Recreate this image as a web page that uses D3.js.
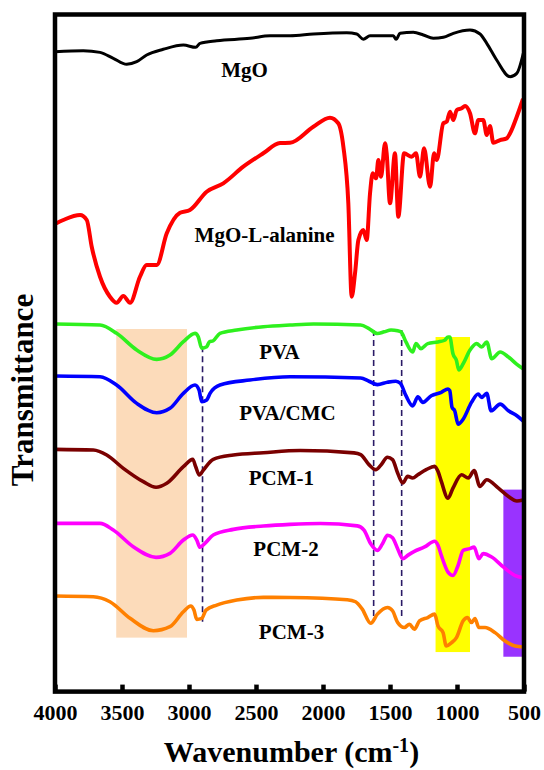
<!DOCTYPE html>
<html>
<head>
<meta charset="utf-8">
<script src="https://cdn.jsdelivr.net/npm/d3@7"></script>
<style>
  html, body { margin: 0; padding: 0; background: #fff; }
  svg text { font-family: "Liberation Serif", "Times New Roman", serif; font-weight: bold; fill: #000; }
</style>
</head>
<body>
<svg id="chart" width="544" height="770"></svg>
<script>
// FTIR spectra: wavenumber (cm-1) vs. transmittance (a.u., offset per sample)
const xTicks = [4000, 3500, 3000, 2500, 2000, 1500, 1000, 500];

const mgoWn = [4000, 3789, 3664, 3565, 3465, 3390, 3316, 3192, 3042, 2950, 2918, 2793, 2545, 2395, 2246, 2072, 1823, 1748, 1699, 1649, 1475, 1455, 1425, 1326, 1251, 1177, 1102, 1027, 903, 828, 778, 704, 604, 554, 505];
const mgoT  = [94.5, 94.65, 94.41, 93.53, 92.64, 93.03, 94.02, 94.86, 95.49, 95.15, 95.74, 96.13, 96.48, 96.87, 96.87, 97.12, 97.31, 97.12, 96.34, 96.87, 96.87, 96.34, 97.22, 97.37, 96.97, 96.48, 96.63, 97.22, 97.71, 97.12, 95.74, 93.28, 90.81, 91.31, 94.27];

const alaWn = [4000, 3938, 3813, 3763, 3726, 3664, 3590, 3540, 3490, 3440, 3366, 3316, 3241, 3166, 3067, 2993, 2868, 2744, 2595, 2446, 2321, 2246, 2072, 1948, 1886, 1848, 1811, 1786, 1761, 1736, 1699, 1674, 1649, 1629, 1604, 1587, 1567, 1537, 1525, 1500, 1463, 1438, 1395, 1338, 1306, 1276, 1246, 1201, 1171, 1151, 1102, 1077, 1052, 1027, 1002, 965, 940, 903, 866, 841, 804, 778, 754, 729, 679, 629, 604, 554, 510];
const alaT  = [69.06, 69.65, 70.39, 69.65, 65.7, 61.27, 58.32, 57.43, 58.42, 57.43, 61.27, 63.0, 63.0, 67.68, 70.72, 71.12, 73.83, 75.07, 77.52, 79.5, 81.02, 81.06, 83.43, 84.76, 83.93, 80.47, 72.11, 58.32, 61.77, 66.69, 68.17, 66.69, 73.59, 76.54, 75.81, 78.51, 76.04, 80.98, 79.5, 72.11, 79.5, 70.13, 79.5, 78.99, 79.5, 76.04, 80.24, 74.56, 79.5, 78.51, 83.93, 84.17, 85.64, 84.42, 85.89, 86.14, 86.48, 85.41, 82.45, 84.42, 84.42, 82.2, 83.53, 81.06, 81.46, 81.71, 82.45, 84.9, 87.37];

const pvaWn = [4000, 3664, 3540, 3390, 3241, 3142, 3042, 2955, 2931, 2905, 2868, 2848, 2819, 2769, 2644, 2445, 2246, 2070, 1719, 1657, 1594, 1543, 1492, 1443, 1418, 1381, 1331, 1306, 1269, 1218, 1142, 1092, 1067, 1054, 1030, 1004, 987, 954, 904, 854, 816, 778, 741, 678, 616, 553, 507];
const pvaT  = [54.29, 54.14, 52.91, 50.45, 49.07, 49.71, 51.67, 52.91, 52.41, 50.7, 50.93, 51.67, 51.82, 52.91, 53.4, 53.89, 54.14, 54.29, 54.14, 53.62, 52.88, 53.13, 53.4, 53.28, 53.13, 51.64, 50.15, 51.39, 50.65, 51.39, 51.64, 51.89, 52.38, 52.38, 49.9, 48.91, 47.52, 48.41, 50.4, 51.39, 50.89, 51.64, 49.16, 50.15, 49.41, 48.32, 47.67];

const cmcWn = [4000, 3664, 3540, 3390, 3241, 3142, 3042, 2955, 2925, 2905, 2868, 2843, 2769, 2545, 2246, 1719, 1657, 1594, 1519, 1456, 1423, 1381, 1331, 1292, 1255, 1192, 1117, 1067, 1054, 1037, 1017, 992, 954, 892, 842, 816, 778, 746, 678, 616, 553, 507];
const cmcT  = [46.6, 46.5, 45.28, 42.57, 41.18, 41.83, 44.05, 45.28, 44.54, 42.81, 43.06, 44.05, 45.28, 46.01, 46.5, 46.32, 45.84, 45.34, 45.69, 45.84, 45.53, 43.7, 42.2, 43.55, 42.71, 43.7, 44.2, 44.69, 44.45, 41.97, 41.47, 39.49, 40.23, 42.71, 43.95, 43.45, 44.05, 41.47, 42.46, 41.47, 40.73, 39.98];

const pcm1Wn = [4000, 3714, 3614, 3490, 3341, 3246, 3166, 3042, 2972, 2950, 2923, 2893, 2819, 2669, 2445, 2170, 1769, 1719, 1657, 1606, 1569, 1519, 1481, 1443, 1405, 1368, 1331, 1292, 1230, 1167, 1142, 1117, 1067, 1030, 966, 916, 872, 829, 778, 691, 616, 553, 507];
const pcm1T  = [35.78, 35.68, 34.94, 32.97, 31.0, 30.17, 30.76, 33.21, 34.3, 33.21, 31.98, 32.72, 34.3, 34.94, 35.28, 35.6, 35.26, 35.01, 33.52, 32.78, 33.43, 34.61, 34.27, 32.28, 30.8, 31.79, 31.54, 32.03, 32.78, 33.27, 32.53, 31.04, 28.56, 30.05, 32.03, 31.54, 32.63, 30.3, 31.29, 30.05, 28.81, 28.16, 28.31];

const pcm2Wn = [4000, 3664, 3565, 3416, 3246, 3142, 3042, 2972, 2942, 2918, 2881, 2819, 2669, 2445, 2246, 2020, 1744, 1694, 1644, 1594, 1556, 1519, 1481, 1443, 1405, 1368, 1318, 1242, 1167, 1142, 1117, 1067, 1030, 992, 954, 904, 872, 837, 804, 741, 653, 566, 507];
const pcm2T  = [24.85, 24.85, 23.86, 21.39, 19.83, 20.42, 22.38, 23.12, 22.38, 21.31, 21.9, 23.12, 23.96, 24.45, 24.7, 24.83, 24.48, 23.85, 21.84, 20.86, 21.84, 23.09, 22.71, 21.11, 19.62, 20.12, 20.71, 21.36, 22.21, 21.62, 20.12, 17.64, 17.14, 18.63, 20.86, 21.11, 21.36, 19.62, 20.38, 19.87, 18.38, 17.14, 16.8];

const pcm3Wn = [4000, 3714, 3590, 3440, 3266, 3142, 3042, 2987, 2963, 2942, 2905, 2873, 2793, 2644, 2445, 2246, 1819, 1757, 1707, 1644, 1594, 1519, 1481, 1443, 1393, 1355, 1318, 1280, 1218, 1167, 1142, 1104, 1080, 1042, 1004, 954, 922, 892, 866, 837, 791, 716, 641, 566, 507];
const pcm3T  = [14.11, 14.01, 13.27, 10.82, 8.99, 9.58, 11.79, 12.64, 12.04, 10.67, 10.82, 12.04, 12.78, 13.52, 13.92, 13.89, 13.57, 13.27, 12.18, 10.09, 11.44, 12.43, 11.94, 10.2, 9.46, 9.95, 9.21, 10.45, 10.94, 11.44, 9.7, 8.71, 6.73, 7.21, 7.97, 10.45, 10.94, 10.2, 10.79, 9.46, 9.46, 8.71, 7.47, 6.73, 6.59];

const seriesNames  = ["MgO", "MgO-L-alanine", "PVA", "PVA/CMC", "PCM-1", "PCM-2", "PCM-3"];
const seriesColors = ["#000000", "#ff0000", "#2ef01e", "#0000ff", "#7a0000", "#ff00ff", "#ff8000"];
const seriesWidths = [3, 4, 3.6, 3.6, 3.6, 3.6, 3.6];
const seriesWn = [mgoWn, alaWn, pvaWn, cmcWn, pcm1Wn, pcm2Wn, pcm3Wn];
const seriesT  = [mgoT, alaT, pvaT, cmcT, pcm1T, pcm2T, pcm3T];

// label anchors (wavenumber, transmittance)
const labelWn = [2586, 2436, 2325, 2265, 2310, 2276, 2235];
const labelT  = [90.77, 66.4, 49.19, 40.11, 30.51, 20.03, 7.84];

// highlighted absorption bands [from, to] in cm-1 and their vertical span
const bandFrom  = [3543, 1160, 654];
const bandTo    = [3015, 903, 500];
const bandTop   = [53.55, 52.37, 29.83];
const bandBot   = [7.97, 5.84, 5.15];
const bandColor = ["#fcdbba", "#ffff00", "#9933ff"];

// marker lines at characteristic peaks
const peakWn  = [2899, 1622, 1413];
const peakTop = [51.0, 53.4, 53.4];
const peakBot = [10.3, 10.45, 10.7];

const svg = d3.select("#chart");
const plotLeft = 55, plotRight = 524, plotTop = 14.5, plotBottom = 691.6;

const x = d3.scaleLinear().domain([4000, 500]).range([plotLeft, plotRight]);
const y = d3.scaleLinear().domain([0, 100]).range([plotBottom, plotTop]);

// bands
svg.append("g").selectAll("rect")
  .data(bandFrom.map((f, i) => ({ f, t: bandTo[i], a: bandTop[i], b: bandBot[i], c: bandColor[i] })))
  .join("rect")
  .attr("x", d => x(d.f))
  .attr("width", d => x(d.t) - x(d.f))
  .attr("y", d => y(d.a))
  .attr("height", d => y(d.b) - y(d.a))
  .attr("fill", d => d.c);

// dashed peak markers
svg.append("g").selectAll("line")
  .data(peakWn.map((w, i) => ({ w, a: peakTop[i], b: peakBot[i] })))
  .join("line")
  .attr("x1", d => x(d.w)).attr("x2", d => x(d.w))
  .attr("y1", d => y(d.a)).attr("y2", d => y(d.b))
  .attr("stroke", "#2a1a66")
  .attr("stroke-width", 1.6)
  .attr("stroke-dasharray", "6,4");

// spectra
const line = d3.line()
  .x(d => x(d[0]))
  .y(d => y(d[1]))
  .curve(d3.curveMonotoneX);

svg.append("g").selectAll("path")
  .data(seriesNames.map((n, i) => ({
    name: n, color: seriesColors[i], w: seriesWidths[i],
    pts: seriesWn[i].map((wn, j) => [wn, seriesT[i][j]])
  })))
  .join("path")
  .attr("d", d => line(d.pts))
  .attr("fill", "none")
  .attr("stroke", d => d.color)
  .attr("stroke-width", d => d.w)
  .attr("stroke-linejoin", "round")
  .attr("stroke-linecap", "round");

// series labels
svg.append("g").selectAll("text")
  .data(seriesNames.map((n, i) => ({ n, w: labelWn[i], t: labelT[i] })))
  .join("text")
  .attr("x", d => x(d.w))
  .attr("y", d => y(d.t))
  .attr("text-anchor", "middle")
  .style("font-size", "21px")
  .text(d => d.n);

// bottom axis with inward ticks
const axis = d3.axisBottom(x)
  .tickValues(xTicks)
  .tickFormat(d3.format("d"))
  .tickSizeInner(-7)
  .tickSizeOuter(0)
  .tickPadding(12.5);

const gx = svg.append("g")
  .attr("transform", `translate(0,${plotBottom})`)
  .call(axis);
gx.select(".domain").remove();
gx.selectAll(".tick line").attr("stroke", "#000").attr("stroke-width", 4.5);
gx.selectAll(".tick text")
  .style("font-size", "22px")
  .style("font-family", "'Liberation Serif', serif")
  .style("font-weight", "bold")
  .attr("fill", "#000");

// frame
svg.append("rect")
  .attr("x", plotLeft).attr("y", plotTop)
  .attr("width", plotRight - plotLeft).attr("height", plotBottom - plotTop)
  .attr("fill", "none")
  .attr("stroke", "#000")
  .attr("stroke-width", 4.5);

// axis titles
const xt = svg.append("text")
  .attr("x", (plotLeft + plotRight) / 2 + 2)
  .attr("y", 762)
  .attr("text-anchor", "middle")
  .style("font-size", "30px");
xt.append("tspan").text("Wavenumber (cm");
xt.append("tspan").attr("dy", -10).style("font-size", "20px").text("-1");
xt.append("tspan").attr("dy", 10).text(")");

svg.append("text")
  .attr("transform", "translate(33,390) rotate(-90)")
  .attr("text-anchor", "middle")
  .style("font-size", "31px")
  .text("Transmittance");
</script>
</body>
</html>
